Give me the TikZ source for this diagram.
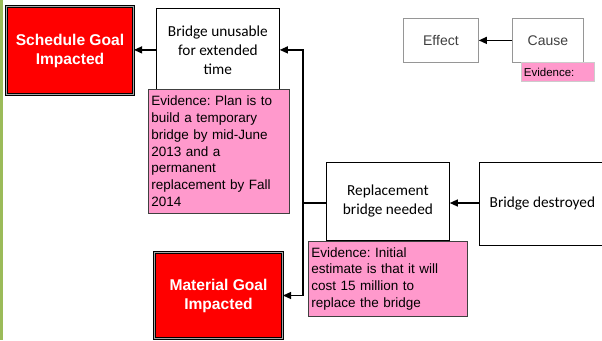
\documentclass[tikz,border=0pt]{standalone}
\usepackage{fontspec}
\setmainfont{Liberation Sans}
\newfontfamily\calibri{Carlito}
\usetikzlibrary{arrows.meta}
\definecolor{evpink}{RGB}{255,153,204}
\definecolor{goalred}{RGB}{255,0,0}
\definecolor{sidegreen}{RGB}{155,187,89}
\definecolor{legendgray}{RGB}{150,150,150}
\definecolor{legendtext}{RGB}{64,64,64}
\frenchspacing
\begin{document}
\begin{tikzpicture}[x=1pt,y=-1pt,
  box/.style={draw=black, line width=0.8pt, fill=white, align=center, inner sep=0pt,
    anchor=north west, font=\calibri\fontsize{15.3}{19}\selectfont},
  goal/.style={draw=black, line width=1pt, double=gray!70, double distance=1.2pt, fill=goalred,
    align=center, inner sep=0pt, anchor=north west, text=white,
    font=\bfseries\fontsize{15.6}{19}\selectfont},
  evid/.style={draw=black!75, line width=0.7pt, fill=evpink, align=left, inner sep=0pt,
    anchor=north west, font=\fontsize{13.5}{16.8}\selectfont},
  legend/.style={draw=legendgray, line width=0.8pt, fill=white, align=center, inner sep=0pt,
    anchor=north west, text=legendtext, font=\fontsize{14}{17}\selectfont},
  arr/.style={line width=1.2pt, -{Triangle[length=8pt,width=7pt]}}
]
\useasboundingbox (0,0) rectangle (602,340);
\clip (0,0) rectangle (602,340);
\fill[sidegreen] (0,0) rectangle (3,340);

% main boxes
\node[goal, minimum width=127pt, minimum height=88pt] (schedule) at (6,6) {Schedule Goal\\Impacted};
\node[box, minimum width=123pt, minimum height=83pt] (unusable) at (156,8) {Bridge unusable\\for extended\\time};
\node[box, minimum width=123pt, minimum height=78pt] (replacement) at (326,162) {Replacement\\bridge needed};
\node[box, minimum width=126pt, minimum height=83pt] (destroyed) at (479,162) {Bridge destroyed};
\node[goal, minimum width=128pt, minimum height=86pt] (material) at (154,252) {Material Goal\\Impacted};

% evidence boxes
\node[evid, minimum width=141pt, minimum height=124pt, text width=135pt] (ev1) at (148,89)
  {Evidence: Plan is to\\build a temporary\\bridge by mid-June\\2013 and a\\permanent\\replacement by Fall\\2014};
\node[evid, minimum width=159pt, minimum height=75pt, text width=153pt] (ev2) at (308,241)
  {Evidence: Initial\\estimate is that it will\\cost 15 million to\\replace the bridge};

% legend
\node[legend, minimum width=75pt, minimum height=44pt] (effect) at (403,18) {Effect};
\node[legend, minimum width=71pt, minimum height=44pt] (cause) at (512,18) {Cause};
\node[draw=gray!40, line width=0.8pt, fill=evpink, anchor=north west, inner sep=0pt,
  minimum width=73pt, minimum height=19pt, text width=68pt, align=left,
  font=\fontsize{11.5}{13}\selectfont] (ev3) at (521,62) {Evidence:};

% connectors
\coordinate (j) at (303,203);
\draw[arr] (unusable.west) -- (unusable.west -| schedule.east);
\draw[arr] (replacement.west |- j) -- (j) |- (unusable.east);
\draw[arr] (j) |- (material.east);
\draw[arr] (destroyed.west |- j) -- (replacement.east |- j);
\draw[arr] (cause.west) -- (effect.east);
\end{tikzpicture}
\end{document}
